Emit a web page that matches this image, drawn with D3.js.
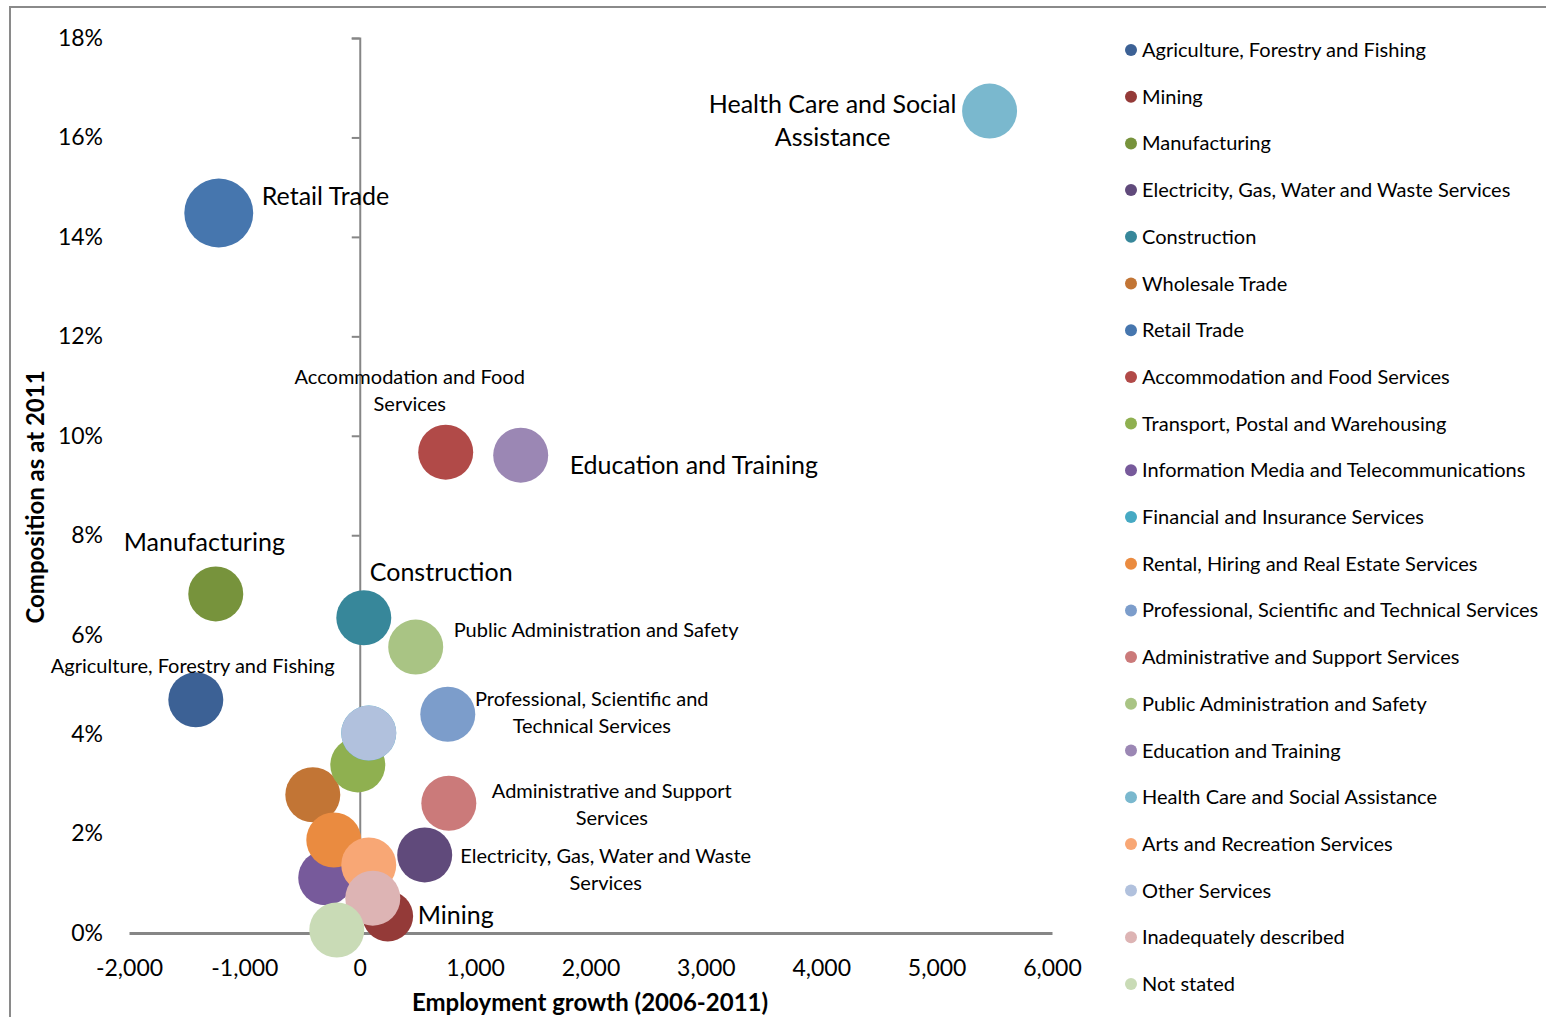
<!DOCTYPE html>
<html><head><meta charset="utf-8">
<script src="https://cdn.jsdelivr.net/npm/d3@7"></script>
<style>
html,body{margin:0;padding:0;background:#fff;}
text{font-family:Lato,"Open Sans",sans-serif;fill:#000;}
</style></head>
<body>
<svg id="chart" width="1546" height="1017"></svg>
<script>
const industries = ["Agriculture, Forestry and Fishing","Mining","Manufacturing","Electricity, Gas, Water and Waste Services","Construction","Wholesale Trade","Retail Trade","Accommodation and Food Services","Transport, Postal and Warehousing","Information Media and Telecommunications","Financial and Insurance Services","Rental, Hiring and Real Estate Services","Professional, Scientific and Technical Services","Administrative and Support Services","Public Administration and Safety","Education and Training","Health Care and Social Assistance","Arts and Recreation Services","Other Services","Inadequately described","Not stated"];
const growth = [-1421, 243, -1248, 563, 35, -407, -1222, 745, -17, -295, 78, -225, 763, 772, 485, 1395, 5459, 78, 78, 113, -199];
const composition = [4.69, 0.34, 6.82, 1.57, 6.34, 2.78, 14.48, 9.67, 3.38, 1.11, 4.02, 1.87, 4.40, 2.61, 5.75, 9.61, 16.53, 1.37, 4.02, 0.70, 0.06];
const bubbleSize = [100,85,100,100,100,100,157,100,100,100,100,100,100,100,100,100,100,100,100,100,100];
const colors = ["#3C6195","#943A38","#77933C","#604A7B","#37879A","#C27535","#4676AE","#B14A48","#8FB050","#775A9B","#46A9C3","#EA8B40","#7C9DCB","#CB7A7A","#A9C484","#9B87B4","#7AB8CE","#F8A775","#B1C1DD","#DDB4B4","#C9DBB6"];
const xTicks = [-2000,-1000,0,1000,2000,3000,4000,5000,6000];
const yTicks = [0,2,4,6,8,10,12,14,16,18];
const labelLines = {
  16: ["Health Care and Social","Assistance"],
  6: ["Retail Trade"],
  7: ["Accommodation and Food","Services"],
  15: ["Education and Training"],
  2: ["Manufacturing"],
  4: ["Construction"],
  14: ["Public Administration and Safety"],
  0: ["Agriculture, Forestry and Fishing"],
  12: ["Professional, Scientific and","Technical Services"],
  13: ["Administrative and Support","Services"],
  3: ["Electricity, Gas, Water and Waste","Services"],
  1: ["Mining"]
};

const svg = d3.select("#chart");
svg.append("rect").attr("x",10).attr("y",7).attr("width",1560).attr("height",1040)
  .attr("fill","none").attr("stroke","#8a8a8a").attr("stroke-width",2);

const x = d3.scaleLinear().domain([-2000,6000]).range([129,1052]);
const y = d3.scaleLinear().domain([0,18]).range([933,38]);
const r = d3.scaleSqrt().domain([0,100]).range([0,27.5]);

const yAxisMarks = d3.axisLeft(y).tickValues(yTicks).tickSize(8).tickFormat("");
const gy = svg.append("g").attr("transform",`translate(${x(0)},0)`).call(yAxisMarks);
gy.select(".domain").attr("stroke","#868686").attr("stroke-width",2);
gy.selectAll(".tick line").attr("stroke","#868686").attr("stroke-width",2);

const yLabels = d3.axisLeft(y).tickValues(yTicks).tickSize(0).tickPadding(0).tickFormat(d=>d+"%");
const gyl = svg.append("g").attr("transform","translate(103,0)").call(yLabels);
gyl.select(".domain").remove();
gyl.selectAll("text").attr("font-size",23).attr("font-family","Lato").attr("fill","#000");

const gx = svg.append("g").attr("transform",`translate(0,${y(0)})`).call(d3.axisBottom(x).tickValues(xTicks).tickSize(0).tickFormat(""));
gx.select(".domain").attr("stroke","#868686").attr("stroke-width",3);

const fmt = d3.format(",");
const gxl = svg.append("g").attr("transform","translate(0,960)").call(d3.axisBottom(x).tickValues(xTicks).tickSize(0).tickPadding(0).tickFormat(d=>fmt(d).replace("\u2212","-")));
gxl.select(".domain").remove();
gxl.selectAll("text").attr("font-size",23).attr("font-family","Lato").attr("fill","#000");

svg.append("text").attr("transform","translate(44,497) rotate(-90)").attr("text-anchor","middle")
  .attr("font-size",24).attr("font-weight","bold").text("Composition as at 2011");
svg.append("text").attr("x",590).attr("y",1011).attr("text-anchor","middle")
  .attr("font-size",24).attr("font-weight","bold").text("Employment growth (2006-2011)");

const idx = d3.range(industries.length);
svg.append("g").selectAll("circle").data(idx).join("circle")
  .attr("cx",i=>x(growth[i])).attr("cy",i=>y(composition[i])).attr("r",i=>r(bubbleSize[i]))
  .attr("fill",i=>colors[i]);

const labelPos = {
  16: {dx:-157, dy:-7, anchor:"middle", big:true},
  6: {dx:43, dy:-17, anchor:"start", big:true},
  7: {dx:-36, dy:-75, anchor:"middle", big:false},
  15: {dx:49, dy:10, anchor:"start", big:true},
  2: {dx:-92, dy:-52, anchor:"start", big:true},
  4: {dx:6, dy:-46, anchor:"start", big:true},
  14: {dx:38, dy:-17, anchor:"start", big:false},
  0: {dx:-145, dy:-34, anchor:"start", big:false},
  12: {dx:144, dy:-15, anchor:"middle", big:false},
  13: {dx:163, dy:-12, anchor:"middle", big:false},
  3: {dx:181, dy:1, anchor:"middle", big:false},
  1: {dx:30, dy:-1, anchor:"start", big:true}
};
Object.keys(labelLines).forEach(k=>{
  const i = +k, p = labelPos[i], lines = labelLines[i];
  const fs = p.big ? 25 : 20, lh = p.big ? 33 : 27;
  const cx = x(growth[i]) + p.dx, cy = y(composition[i]) + p.dy;
  const t = svg.append("text").attr("text-anchor",p.anchor).attr("font-size",fs);
  lines.forEach((l,j)=>{
    t.append("tspan").attr("x",cx).attr("y",cy + j*lh).attr("dy","0.35em").text(l);
  });
});

const lg = svg.append("g");
const ly = d3.scalePoint().domain(idx).range([50,984]);
idx.forEach(i=>{
  lg.append("circle").attr("cx",1131).attr("cy",ly(i)).attr("r",6).attr("fill",colors[i]);
  lg.append("text").attr("x",1142).attr("y",ly(i)).attr("dy","0.35em").attr("font-size",20).text(industries[i]);
});
</script>
</body></html>
